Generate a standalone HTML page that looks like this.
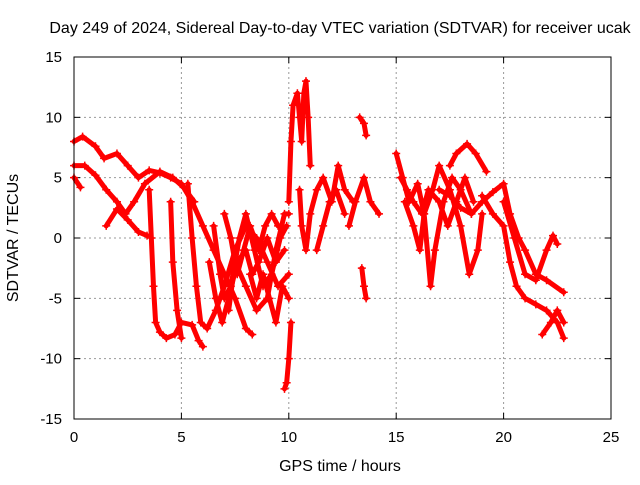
<!DOCTYPE html>
<html><head><meta charset="utf-8"><style>
body{margin:0;background:#fff}
svg text{font-family:"Liberation Sans",sans-serif;font-size:15px;fill:#000}
svg text.big{font-size:16px}
</style></head><body>
<svg id="c" width="640" height="480" viewBox="0 0 640 480">
<text class="big" x="340" y="33" text-anchor="middle">Day 249 of 2024, Sidereal Day-to-day VTEC variation (SDTVAR) for receiver ucak</text>
<text class="big" x="340" y="471" text-anchor="middle">GPS time / hours</text>
<text class="big" transform="translate(18,238) rotate(-90)" text-anchor="middle">SDTVAR / TECUs</text>
<g id="grid"></g><g id="marks"></g>
<rect x="74" y="57" width="537" height="362" fill="none" stroke="#000" stroke-width="1"/>
</svg>
<script>
const xTicks=[0,5,10,15,20,25];
const yTicks=[-15,-10,-5,0,5,10,15];
const track1=[[0,8],[0.4,8.4],[1,7.6],[1.4,6.6],[2,7],[2.5,6],[3,5],[3.5,5.6],[4,5.4],[4.5,5],[5,4.5],[5.5,3],[6,1],[6.5,-1],[7,-3],[7.5,-5],[8,-7.5],[8.3,-8]];
const track2=[[0,6],[0.5,6],[1,5.2],[1.5,4],[2,3],[2.4,2],[2.8,3],[3.3,4.5],[4,5.5],[4.6,5],[5.1,4.2],[5.6,3]];
const track3=[[0,5],[0.3,4.2]];
const track4=[[1.5,1],[2,2.4],[2.5,1.5],[3,0.5],[3.4,0.2]];
const track5=[[3.5,4],[3.6,0],[3.7,-4],[3.8,-7],[4,-7.8],[4.3,-8.3],[4.7,-8],[5,-7],[5.5,-7.2],[5.8,-8.5],[6,-9]];
const track6=[[5.3,4.5],[5.5,0],[5.7,-4],[5.9,-7],[6.2,-7.5],[6.6,-6],[7,-4],[7.5,-1],[8,1],[8.5,0],[9,-2],[9.5,-4],[10,-3]];
const track7=[[4.5,3],[4.6,-2],[4.8,-6],[5,-8.3]];
const track8=[[6.5,1],[6.8,-3],[7,-5],[7.3,-4],[7.7,0],[8,2],[8.4,-1],[8.8,-4],[9.2,-3],[9.6,0],[9.9,1]];
const track9=[[7.2,-6],[7.5,-2],[8,-4],[8.5,-6],[9,-5],[9.4,-1],[9.8,2],[10,2]];
const track10=[[9.8,-12.5],[9.9,-12],[10,-10],[10.1,-7]];
const track11=[[10,3],[10.1,8],[10.2,11],[10.4,12],[10.5,10],[10.6,8],[10.7,12],[10.8,13],[10.9,10],[11,6]];
const track12=[[10.5,4],[10.6,1],[10.8,-1],[11,2],[11.3,4],[11.6,5],[12,3],[12.3,6],[12.6,4],[13,3]];
const track13=[[13.3,10],[13.5,9.5],[13.6,8.5]];
const track14=[[13.4,-2.5],[13.5,-4],[13.6,-5]];
const track15=[[12.8,1],[13.1,3],[13.5,5],[13.8,3],[14.2,2]];
const track16=[[15,7],[15.3,5],[15.6,3],[16,4.5],[16.3,2],[16.6,-4],[16.8,-1],[17.2,3],[17.6,5],[18,4],[18.5,2]];
const track17=[[15.4,3],[15.8,1],[16.1,-1],[16.3,2],[16.7,4],[17,6],[17.5,4],[18,1],[18.4,-3],[18.8,-1],[19,2]];
const track18=[[17.5,6],[17.8,7],[18.3,7.8],[18.7,7],[19.2,5.5]];
const track19=[[17,4],[17.5,3.5],[18,2.5],[18.5,2],[19,3],[19.5,3.8],[20,4.5],[20.3,2],[20.7,0],[21,-1],[21.5,-3],[22,-3.5],[22.8,-4.5]];
const track20=[[19,3.5],[19.5,2],[20,1],[20.3,-2],[20.6,-4],[21,-5],[21.5,-5.5],[22,-6],[22.5,-7],[22.8,-8.3]];
const track21=[[20,3],[20.5,0],[21,-3],[21.5,-3.5],[22,-1],[22.3,0.2],[22.5,-0.5]];
const track22=[[21.8,-8],[22.2,-7],[22.5,-6],[22.8,-7]];
const track23=[[6.3,-2],[6.6,-5],[6.9,-7],[7.2,-5],[7.6,-2],[8,-1],[8.3,-3],[8.6,-2],[9,0],[9.4,-2],[9.8,-1]];
const track24=[[7,2],[7.3,0],[7.6,-3],[7.9,-1],[8.2,1],[8.6,-1],[8.9,1],[9.2,2],[9.5,1]];
const track25=[[8.2,-3],[8.5,-5],[8.8,-3],[9.1,-5],[9.4,-7],[9.7,-4],[10,-5]];
const track26=[[11.3,-1],[11.6,1],[11.9,3],[12.2,4],[12.6,2]];
const track27=[[15.2,5],[15.5,4],[15.8,3],[16.2,2],[16.5,4],[17,3],[17.4,1],[17.8,3],[18.2,5],[18.6,3]];
const tracks=[track1,track2,track3,track4,track5,track6,track7,track8,track9,track10,track11,track12,track13,track14,track15,track16,track17,track18,track19,track20,track21,track22,track23,track24,track25,track26,track27];
const X=v=>74+v*(537/25), Y=v=>238-v*(362/30);
const NS="http://www.w3.org/2000/svg";
const g=document.getElementById('grid'), m=document.getElementById('marks');
function mk(t,a,p){const e=document.createElementNS(NS,t);for(const k in a)e.setAttribute(k,a[k]);p.appendChild(e);return e;}
xTicks.forEach(t=>{
 if(t>0&&t<25){const l=mk('line',{x1:X(t),x2:X(t),y1:57,y2:419,stroke:'#999','stroke-dasharray':'2,3'},g);
 
 }
 mk('line',{x1:X(t),x2:X(t),y1:419,y2:413,stroke:'#000'},g);
 mk('line',{x1:X(t),x2:X(t),y1:57,y2:63,stroke:'#000'},g);
 const tx=mk('text',{x:X(t),y:442,'text-anchor':'middle'},g);tx.textContent=t;
 
 
});
yTicks.forEach(t=>{
 if(t>-15&&t<15){const l=mk('line',{x1:74,x2:611,y1:Y(t),y2:Y(t),stroke:'#999','stroke-dasharray':'2,3'},g);
 
 }
 mk('line',{x1:74,x2:80,y1:Y(t),y2:Y(t),stroke:'#000'},g);
 mk('line',{x1:605,x2:611,y1:Y(t),y2:Y(t),stroke:'#000'},g);
 const tx=mk('text',{x:62,y:Y(t)+5,'text-anchor':'end'},g);tx.textContent=t;
 
 
});
tracks.forEach(tr=>{
 const pl=mk('polyline',{points:tr.map(p=>X(p[0])+','+Y(p[1])).join(' '),fill:'none',stroke:'#f00','stroke-width':5,'stroke-linejoin':'round','stroke-linecap':'round'},m);
 
 
 tr.forEach(p=>{
  const x=X(p[0]),y=Y(p[1]);
  const pt=mk('path',{d:`M${x-4},${y}H${x+4}M${x},${y-4}V${y+4}`,stroke:'#f00','stroke-width':1.5},m);
  
  
 });
});
</script>
</body></html>
